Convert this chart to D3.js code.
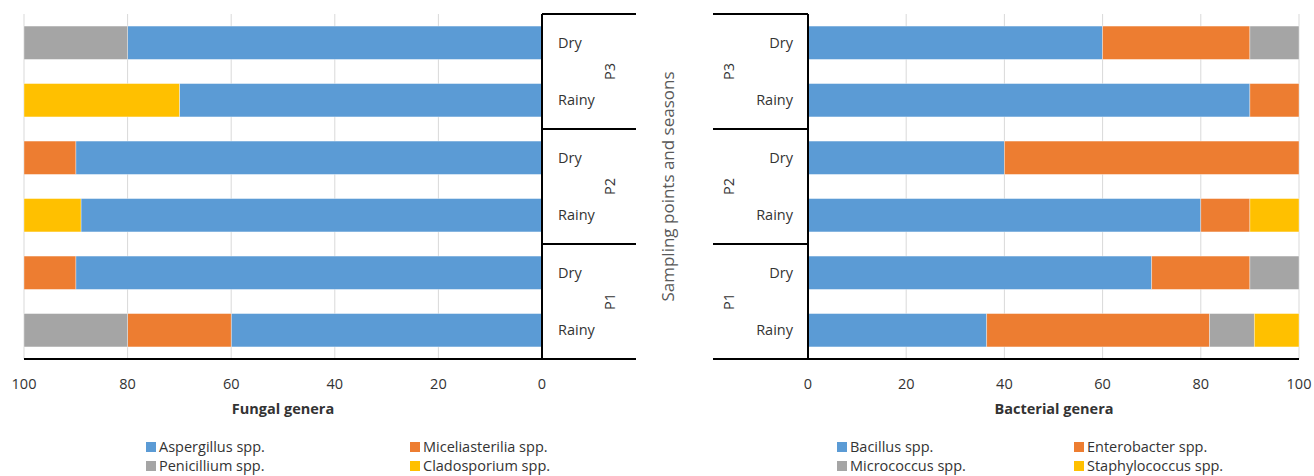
<!DOCTYPE html>
<html>
<head>
<meta charset="utf-8">
<script src="https://cdn.jsdelivr.net/npm/d3@7"></script>
<style>
  html, body { margin: 0; padding: 0; background: #fff; }
  svg { display: block; }
  text { font-family: "Open Sans", Lato, sans-serif; fill: #333; }
</style>
</head>
<body>
<svg id="chart" width="1314" height="476"></svg>
<script>
// ---- data ----
const points = ["P3", "P2", "P1"];
const seasons = ["Dry", "Rainy"];
const ticks = [0, 20, 40, 60, 80, 100];

const fungalGenera = ["Aspergillus spp.", "Miceliasterilia spp.", "Penicillium spp.", "Cladosporium spp."];
// rows: P3 Dry, P3 Rainy, P2 Dry, P2 Rainy, P1 Dry, P1 Rainy
const aspergillus     = [80, 70, 90, 89, 90, 60];
const miceliasterilia = [0, 0, 10, 0, 10, 20];
const penicillium     = [20, 0, 0, 0, 0, 20];
const cladosporium    = [0, 30, 0, 11, 0, 0];

const bacterialGenera = ["Bacillus spp.", "Enterobacter spp.", "Micrococcus spp.", "Staphylococcus spp."];
const bacillus       = [60, 90, 40, 80, 70, 36.4];
const enterobacter   = [30, 10, 60, 10, 20, 45.4];
const micrococcus    = [10, 0, 0, 0, 10, 9.1];
const staphylococcus = [0, 0, 0, 10, 0, 9.1];

const colors = ["#5B9BD5", "#ED7D31", "#A5A5A5", "#FFC000"];

// ---- build rows ----
const rows = [];
points.forEach(p => seasons.forEach(s => rows.push({ key: p + "-" + s, point: p, season: s })));

function buildStack(genera, series) {
  const table = rows.map((r, i) => {
    const o = { key: r.key };
    genera.forEach((g, j) => o[g] = series[j][i]);
    return o;
  });
  return d3.stack().keys(genera)(table);
}

const svg = d3.select("#chart");
const yTop = 14, yBottom = 359;
const FS = 14.5;

const y = d3.scaleBand()
  .domain(rows.map(r => r.key))
  .range([yTop, yBottom])
  .paddingInner(0.42)
  .paddingOuter(0.21);
const step = y.step();

function drawPanel(opts) {
  const { x, genera, series, boxX0, boxX1, axisX, side, title, titleX, legendX } = opts;
  const g = svg.append("g");

  // gridlines
  g.selectAll(".grid").data(ticks.filter(t => t !== 0)).enter().append("line")
    .attr("x1", d => x(d)).attr("x2", d => x(d))
    .attr("y1", yTop).attr("y2", yBottom)
    .attr("stroke", "#D9D9D9").attr("stroke-width", 1);

  // bars
  const stack = buildStack(genera, series);
  stack.forEach((layer, j) => {
    g.selectAll(null).data(layer.filter(d => d[1] - d[0] > 0)).enter().append("rect")
      .attr("x", d => Math.min(x(d[0]), x(d[1])))
      .attr("width", d => Math.abs(x(d[1]) - x(d[0])))
      .attr("y", d => y(d.data.key))
      .attr("height", y.bandwidth())
      .attr("fill", colors[j])
      .attr("stroke", "#fff").attr("stroke-opacity", 0.5).attr("stroke-width", 0.7);
  });

  // category axis vertical line
  g.append("line").attr("x1", axisX).attr("x2", axisX).attr("y1", yTop).attr("y2", yBottom)
    .attr("stroke", "#000").attr("stroke-width", 2);

  // group separators
  const seps = points.map(p => y(p + "-" + seasons[0]) - step * 0.21);
  seps.push(yBottom);
  g.selectAll(".sep").data(seps).enter().append("line")
    .attr("x1", boxX0).attr("x2", boxX1)
    .attr("y1", d => d).attr("y2", d => d)
    .attr("stroke", "#000").attr("stroke-width", 2);

  // bottom axis line across plot
  const px = d3.extent(x.range());
  g.append("line")
    .attr("x1", Math.min(px[0], boxX0)).attr("x2", Math.max(px[1], boxX1))
    .attr("y1", yBottom).attr("y2", yBottom)
    .attr("stroke", "#000").attr("stroke-width", 2);

  // season labels
  g.selectAll(".season").data(rows).enter().append("text")
    .attr("x", side === "left" ? axisX + 16 : axisX - 15)
    .attr("y", d => y(d.key) + y.bandwidth() / 2)
    .attr("dy", "0.35em")
    .attr("text-anchor", side === "left" ? "start" : "end")
    .attr("font-size", FS)
    .text(d => d.season);

  // point labels (rotated)
  const plx = side === "left" ? axisX + 68 : axisX - 79;
  g.selectAll(".point").data(points).enter().append("text")
    .attr("transform", d => {
      const cy = (y(d + "-" + seasons[0]) + y(d + "-" + seasons[1]) + y.bandwidth()) / 2;
      return `translate(${plx},${cy}) rotate(-90)`;
    })
    .attr("dy", "0.35em")
    .attr("text-anchor", "middle")
    .attr("font-size", FS)
    .text(d => d);

  // tick labels
  g.selectAll(".tick").data(ticks).enter().append("text")
    .attr("x", d => x(d)).attr("y", 384)
    .attr("dy", "0.35em")
    .attr("text-anchor", "middle")
    .attr("font-size", FS)
    .text(d => d);

  // axis title
  g.append("text").attr("x", titleX).attr("y", 409).attr("dy", "0.35em")
    .attr("text-anchor", "middle").attr("font-size", FS).attr("font-weight", "bold")
    .text(title);

  // legend
  const lg = g.selectAll(".lg").data(genera).enter().append("g")
    .attr("transform", (d, i) => `translate(${legendX[i % 2]},${447 + Math.floor(i / 2) * 19})`);
  lg.append("rect").attr("x", 0).attr("y", -5).attr("width", 10).attr("height", 10)
    .attr("fill", (d, i) => colors[i]);
  lg.append("text").attr("x", 13).attr("y", 0).attr("dy", "0.35em")
    .attr("font-size", FS).text(d => d);
}

// left panel (fungal) — reversed axis
const xLeft = d3.scaleLinear().domain([0, 100]).range([542, 24]);
drawPanel({
  x: xLeft, genera: fungalGenera,
  series: [aspergillus, miceliasterilia, penicillium, cladosporium],
  boxX0: 542, boxX1: 636, axisX: 542, side: "left",
  title: "Fungal genera", titleX: 283, legendX: [146, 410]
});

// right panel (bacterial)
const xRight = d3.scaleLinear().domain([0, 100]).range([808, 1299]);
drawPanel({
  x: xRight, genera: bacterialGenera,
  series: [bacillus, enterobacter, micrococcus, staphylococcus],
  boxX0: 713, boxX1: 808, axisX: 808, side: "right",
  title: "Bacterial genera", titleX: 1054, legendX: [837, 1074]
});

// shared y-axis title
svg.append("text")
  .attr("transform", `translate(668,${(yTop + yBottom) / 2}) rotate(-90)`)
  .attr("dy", "0.35em")
  .attr("text-anchor", "middle")
  .attr("font-size", 17)
  .style("fill", "#595959")
  .text("Sampling points and seasons");
</script>
</body>
</html>
